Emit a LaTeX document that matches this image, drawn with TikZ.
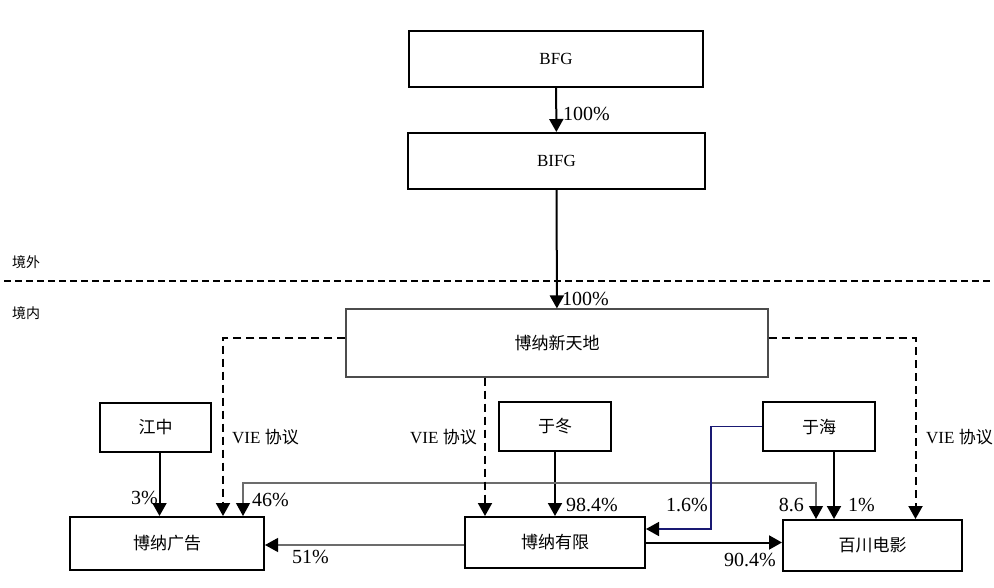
\documentclass[tikz,border=0pt]{standalone}
\usepackage{fontspec}
\setmainfont{Liberation Serif}
\newfontfamily\cjk{Noto Sans CJK SC}
\usetikzlibrary{arrows.meta}
\usetikzlibrary{calc}
\usepackage{xcolor}
\definecolor{navyline}{RGB}{25,25,115}

\begin{document}
\begin{tikzpicture}[x=1pt,y=-1pt,
    box/.style={draw,line width=2pt,inner sep=0pt,font=\cjk\fontsize{17}{17}\selectfont},
    own/.style={line width=2pt,-{Triangle[length=13pt,width=14pt]}},
    vie/.style={line width=2pt,dash pattern=on 8pt off 5pt,-{Triangle[length=13pt,width=14pt]}},
    share/.style={draw=gray!85!black,line width=1.2pt,-{Triangle[length=13pt,width=14pt,color=black]}},
    pct/.style={inner sep=0pt,font=\fontsize{20}{20}\selectfont}]
      \useasboundingbox (0,0) rectangle (994,588);

      % Boxes
      \node[box,minimum width=294pt,minimum height=56pt,font=\fontsize{17}{17}\selectfont] (BFG) at (556,59) {BFG};
      \node[box,minimum width=297pt,minimum height=56pt,font=\fontsize{17}{17}\selectfont] (BIFG) at (556.5,161) {BIFG};
      \node[box,draw=gray!60!black,line width=1.2pt,minimum width=422pt,minimum height=68pt] (XTD) at (557,343) {博纳新天地};
      \node[box,minimum width=111pt,minimum height=49pt] (JZ) at (155.5,427.5) {江中};
      \node[box,minimum width=112pt,minimum height=49pt] (YD) at (555,426.5) {于冬};
      \node[box,minimum width=112pt,minimum height=49pt] (YH) at (819,426.5) {于海};
      \node[box,minimum width=194pt,minimum height=53pt] (GG) at (167,543.5) {博纳广告};
      \node[box,minimum width=180pt,minimum height=51pt] (YX) at (555,542.5) {博纳有限};
      \node[box,minimum width=179pt,minimum height=51pt] (BC) at (872.5,545.5) {百川电影};

      % Border
      \draw[line width=1.5pt,dash pattern=on 7pt off 4pt] (4,281) -- (994,281);
      \node[anchor=west,inner sep=0pt,font=\cjk\fontsize{14}{14}\selectfont] (out) at (12,262) {境外};
      \node[anchor=west,inner sep=0pt,font=\cjk\fontsize{14}{14}\selectfont] (in) at (12,313) {境内};

      % Ownership
      \draw[own] (BFG) -- (BIFG);
      \draw[own] (BIFG) -- (XTD);
      \coordinate (jz) at ($(JZ.south)+(4,0)$);
      \draw[own] (jz) -- (jz |- GG.north);
      \draw[own] (YD.south) -- (YD.south |- YX.north);
      \coordinate (yh) at ($(YH.south)+(15,0)$);
      \draw[own] (yh) -- (yh |- BC.north);
      \draw[own] (YX.east) -- (YX.east -| BC.west);

      \coordinate (yd) at (YD.south |- 0,483);
      \draw[share] (yd) -| ($(GG.north)+(76,0)$);
      \draw[share] (yd) -| ($(BC.north)+(-56.5,0)$);
      \draw[share] ($(YX.west)+(0,2.5)$) -- ($(YX.west -| GG.east)+(0,2.5)$);

      \coordinate (bend) at (711,529);
      \draw[navyline,line width=1.5pt,-{Triangle[length=13pt,width=14pt,color=black]}] (YH.west) -| (bend) -- (bend -| YX.east);

      % VIE
      \draw[vie] ($(XTD.west)+(0,-5)$) -| ($(GG.north)+(56,0)$);
      \draw[vie] ($(XTD.east)+(0,-5)$) -| ($(BC.north)+(43,0)$);
      \coordinate (mid) at ($(XTD.south)+(-72,0)$);
      \draw[vie] (mid) -- (mid |- YX.north);

      \foreach \x [count=\i] in {232,410,926}
      {
        \node[anchor=west,inner sep=0pt,font=\fontsize{17}{17}\selectfont] (vie\i) at (\x,437) {VIE {\cjk 协议}};
      }

      % Labels
      \foreach \x/\y/\anc/\txt [count=\i] in {563/114/west/100\%, 562/299/west/100\%, 158/498/east/3\%,
        252/500/west/46\%, 292/557/west/51\%, 566/505/west/98.4\%, 708/505/east/1.6\%,
        804/505/east/8.6, 848/505/west/1\%, 776/560/east/90.4\%}
      {
        \node[pct,anchor=\anc] (pct\i) at (\x,\y) {\txt};
      }
\end{tikzpicture}
\end{document}
